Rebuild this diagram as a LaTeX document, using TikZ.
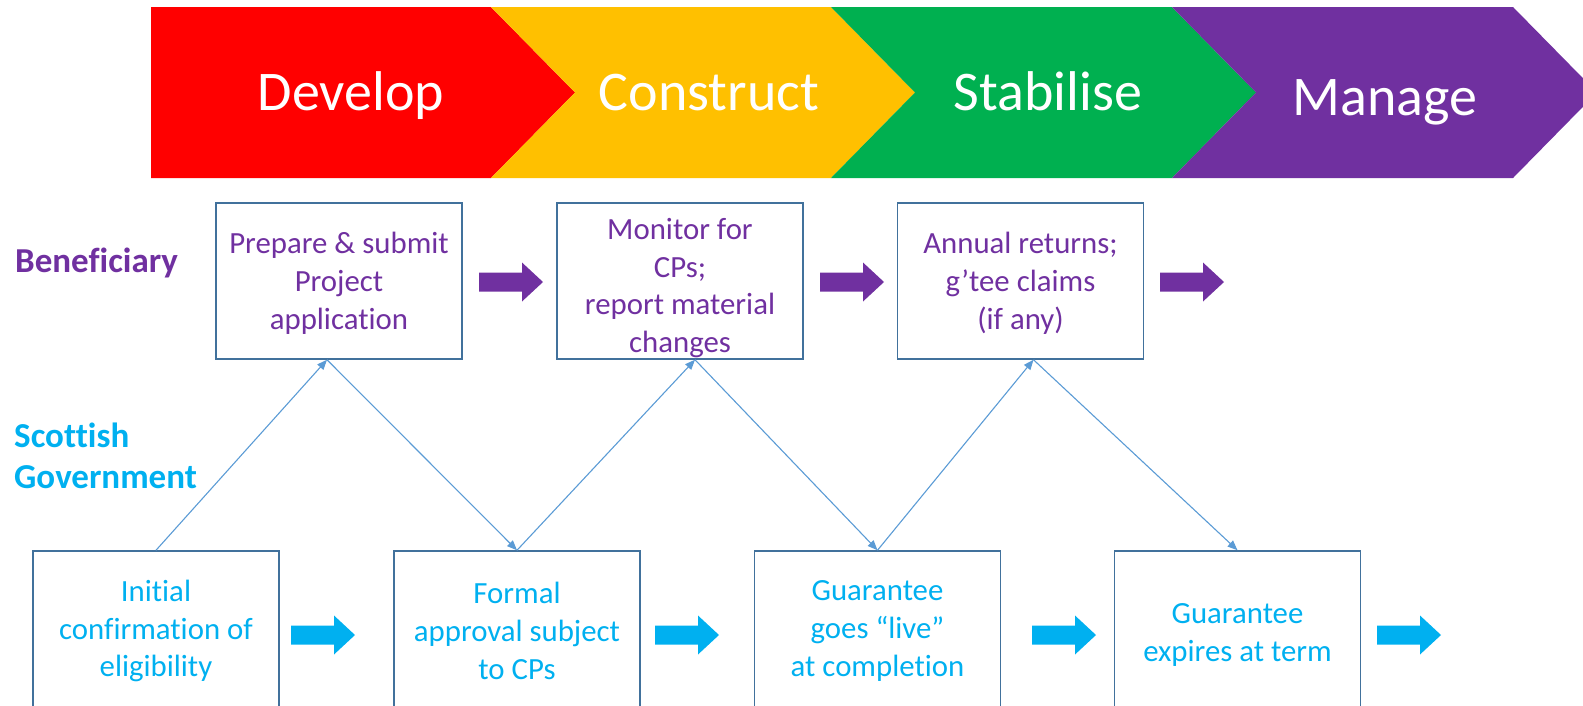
\documentclass[tikz,border=0pt]{standalone}
\usepackage{fontspec}
\setmainfont{Carlito}[Ligatures=NoCommon]
\usetikzlibrary{arrows.meta}
\definecolor{ppl}{HTML}{7030A0}
\definecolor{cyn}{HTML}{00B0F0}
\definecolor{cred}{HTML}{FF0000}
\definecolor{cyel}{HTML}{FFC000}
\definecolor{cgrn}{HTML}{00B050}
\definecolor{bord}{HTML}{41719C}
\definecolor{conn}{HTML}{5B9BD5}
\begin{document}
\begin{tikzpicture}[x=1pt,y=-1pt,
  box/.style={draw=bord, line width=1.5pt, minimum width=246pt, minimum height=156pt, inner sep=0pt},
  btext/.style={align=center, inner sep=0pt, font=\fontsize{30.8}{37.8}\selectfont},
  ptext/.style={btext, text=ppl},
  ctext/.style={btext, text=cyn},
  connector/.style={draw=conn, line width=1.1pt, -{Triangle[length=10pt,width=8pt]}},
  phase/.style={text=white, anchor=base, inner sep=0pt, font=\fontsize{56}{60}\selectfont},
  lane/.style={inner sep=0pt, align=left, font=\bfseries\fontsize{35}{41}\selectfont},
  pics/barrow/.style={code={\fill[#1] (0,-9.5) -- (43,-9.5) -- (43,-19.5) -- (64,0) -- (43,19.5) -- (43,9.5) -- (0,9.5) -- cycle;}}
]
\clip (0,0) rectangle (1583,705);

% phase chevrons
\fill[cred] (151,7) -- (491,7) -- (575,92.5) -- (491,178) -- (151,178) -- cycle;
\fill[cyel] (491,7) -- (831,7) -- (915,92.5) -- (831,178) -- (491,178) -- (575,92.5) -- cycle;
\fill[cgrn] (831,7) -- (1172,7) -- (1256,92.5) -- (1172,178) -- (831,178) -- (915,92.5) -- cycle;
\fill[ppl] (1172,7) -- (1513,7) -- (1597,92.5) -- (1513,178) -- (1172,178) -- (1256,92.5) -- cycle;
\node[phase] (pdev) at (351,110) {Develop};
\node[phase] (pcon) at (709,110) {Construct};
\node[phase] (psta) at (1048,110) {Stabilise};
\node[phase] (pman) at (1385,115) {Manage};

% lane labels
\node[lane, text=ppl, anchor=base west] (lben) at (15,272) {Beneficiary};
\node[lane, text=cyn, anchor=west] (lsg) at (14,456) {Scottish\\Government};

% beneficiary boxes
\node[box] (b1) at (339,281) {};
\node[box] (b2) at (680,281) {};
\node[box] (b3) at (1020.5,281) {};
\node[ptext] (t1) at (339,283) {Prepare \& submit\\Project\\application};
\node[ptext] (t2) at (680,288) {Monitor for\\CPs;\\report material\\changes};
\node[ptext] (t3) at (1020.5,283) {Annual returns;\\g’tee claims\\(if any)};

% government boxes
\node[box] (bA) at (156,629) {};
\node[box] (bB) at (517,629) {};
\node[box] (bC) at (877.5,629) {};
\node[box] (bD) at (1237.5,629) {};
\node[ctext] (tA) at (156,631) {Initial\\confirmation of\\eligibility};
\node[ctext] (tB) at (517,631) {Formal\\approval subject\\to CPs};
\node[ctext] (tC) at (877.5,631) {Guarantee\\goes “live”\\at completion};
\node[ctext] (tD) at (1237.5,635) {Guarantee\\expires at term};

% block arrows
\pic at (479,282) {barrow=ppl};
\pic at (820,282) {barrow=ppl};
\pic at (1160,282) {barrow=ppl};
\pic at (291,635) {barrow=cyn};
\pic at (655,635) {barrow=cyn};
\pic at (1032,635) {barrow=cyn};
\pic at (1377,635) {barrow=cyn};

% connectors
\draw[connector] (bA.north) -- ([xshift=-12pt]b1.south);
\draw[connector] ([xshift=-12pt]b1.south) -- (bB.north);
\draw[connector] (bB.north) -- ([xshift=15pt]b2.south);
\draw[connector] ([xshift=15pt]b2.south) -- (bC.north);
\draw[connector] (bC.north) -- ([xshift=13pt]b3.south);
\draw[connector] ([xshift=13pt]b3.south) -- (bD.north);
\end{tikzpicture}
\end{document}
